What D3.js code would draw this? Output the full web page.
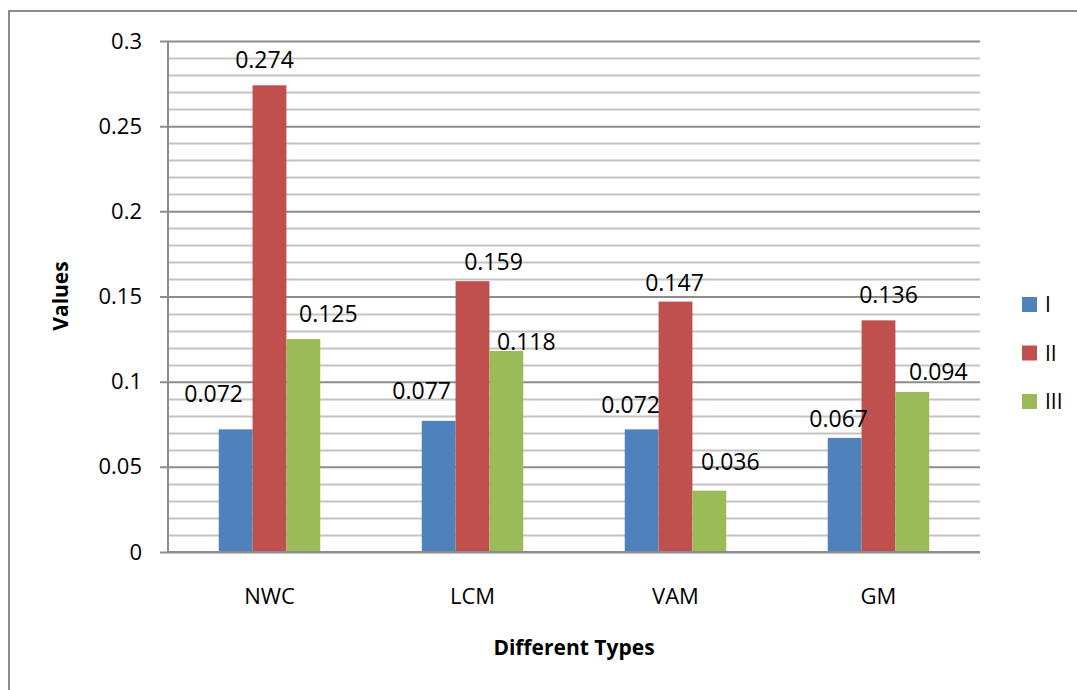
<!DOCTYPE html>
<html>
<head>
<meta charset="utf-8">
<script src="https://cdn.jsdelivr.net/npm/d3@7"></script>
<style>
  body { margin: 0; background: #fff; }
  text { font-family: "Open Sans", sans-serif; fill: #000; }
</style>
</head>
<body>
<div id="wrapper"></div>
<script>
// chart data
const categories = ["NWC", "LCM", "VAM", "GM"];
const seriesNames = ["I", "II", "III"];
const seriesI = [0.072, 0.077, 0.072, 0.067];
const seriesII = [0.274, 0.159, 0.147, 0.136];
const seriesIII = [0.125, 0.118, 0.036, 0.094];
const yTicks = [0, 0.05, 0.1, 0.15, 0.2, 0.25, 0.3];
const colors = ["#4F81BD", "#C0504D", "#9BBB59"];

function buildChart() {
    const allSeries = [seriesI, seriesII, seriesIII];

    const dimension = {
        width: 1077,
        height: 690,
        margin: { top: 41, left: 168, bottom: 138, right: 97 }
    };
    dimension.boundedWidth = dimension.width - dimension.margin.left - dimension.margin.right;
    dimension.boundedHeight = dimension.height - dimension.margin.top - dimension.margin.bottom;

    const svg = d3.select("#wrapper").append("svg")
        .attr("width", dimension.width)
        .attr("height", dimension.height);

    // outer frame (only left and top edges are visible)
    svg.append("rect")
        .attr("x", 9).attr("y", 11)
        .attr("width", 1200).attr("height", 800)
        .attr("fill", "none")
        .attr("stroke", "#8c8c8c")
        .attr("stroke-width", 2);

    const bounded = svg.append("g")
        .attr("transform", `translate(${dimension.margin.left},${dimension.margin.top})`);

    const yScaler = d3.scaleLinear()
        .domain([0, 0.3])
        .range([dimension.boundedHeight, 0]);

    const x0 = d3.scaleBand()
        .domain(categories)
        .range([0, dimension.boundedWidth])
        .padding(0);
    const bw = x0.bandwidth();
    const x1 = d3.scaleBand()
        .domain(seriesNames)
        .range([bw * 0.25, bw * 0.75])
        .padding(0);

    // minor gridlines every 0.01
    const minor = d3.range(1, 30).map(d => d / 100).filter(d => Math.round(d * 100) % 5 !== 0);
    bounded.append("g").selectAll("line")
        .data(minor)
        .join("line")
        .attr("x1", 0).attr("x2", dimension.boundedWidth)
        .attr("y1", d => Math.round(yScaler(d)) + 0.5)
        .attr("y2", d => Math.round(yScaler(d)) + 0.5)
        .attr("stroke", "#c4c4c4")
        .attr("stroke-width", 2);

    // major gridlines + y axis
    const yAxis = d3.axisLeft(yScaler)
        .tickValues(yTicks)
        .tickSize(-dimension.boundedWidth)
        .tickFormat(d => d3.format("")(+d.toFixed(2)));
    const yG = bounded.append("g").call(yAxis);
    yG.select(".domain").remove();
    yG.selectAll(".tick line")
        .attr("stroke", "#8c8c8c")
        .attr("stroke-width", 2)
        .attr("x1", -8);
    yG.selectAll(".tick text")
        .attr("x", -26)
        .attr("font-size", 22)
        .attr("font-family", "Open Sans, sans-serif");

    // y axis line
    bounded.append("line")
        .attr("x1", 0).attr("x2", 0)
        .attr("y1", 0).attr("y2", dimension.boundedHeight)
        .attr("stroke", "#8c8c8c").attr("stroke-width", 2);

    // bars
    const groups = bounded.append("g").selectAll("g")
        .data(categories)
        .join("g")
        .attr("transform", d => `translate(${x0(d)},0)`);

    groups.selectAll("rect")
        .data((c, ci) => seriesNames.map((s, si) => ({ s, si, v: allSeries[si][ci] })))
        .join("rect")
        .attr("x", d => x1(d.s))
        .attr("width", x1.bandwidth())
        .attr("y", d => yScaler(d.v))
        .attr("height", d => dimension.boundedHeight - yScaler(d.v))
        .attr("fill", d => colors[d.si]);

    // x axis line
    bounded.append("line")
        .attr("x1", 0).attr("x2", dimension.boundedWidth)
        .attr("y1", dimension.boundedHeight).attr("y2", dimension.boundedHeight)
        .attr("stroke", "#8c8c8c").attr("stroke-width", 2);

    // data labels (Excel placed these by hand, so nudge each one)
    const nudge = [
        [[-22, 27], [-5, 17], [25, 17]],
        [[-17, 22], [21, 11], [20, 1]],
        [[-11, 16], [-1, 11], [21, 21]],
        [[-6, 11], [10, 17], [26, 12]]
    ];
    groups.selectAll("text.lbl")
        .data((c, ci) => seriesNames.map((s, si) => ({ s, si, ci, v: allSeries[si][ci] })))
        .join("text")
        .attr("class", "lbl")
        .attr("x", d => x1(d.s) + x1.bandwidth() / 2 + nudge[d.ci][d.si][0])
        .attr("y", d => yScaler(d.v) - nudge[d.ci][d.si][1])
        .attr("text-anchor", "middle")
        .attr("font-size", 23)
        .text(d => d.v.toFixed(3));

    // category labels
    bounded.append("g").selectAll("text")
        .data(categories)
        .join("text")
        .attr("x", d => x0(d) + bw / 2)
        .attr("y", dimension.boundedHeight + 52)
        .attr("text-anchor", "middle")
        .attr("font-size", 22)
        .text(d => d);

    // axis titles
    svg.append("text")
        .attr("x", 574)
        .attr("y", 655)
        .attr("text-anchor", "middle")
        .attr("font-size", 21)
        .attr("font-weight", "bold")
        .text("Different Types");

    svg.append("text")
        .attr("transform", "translate(68,296) rotate(-90)")
        .attr("text-anchor", "middle")
        .attr("font-size", 21)
        .attr("font-weight", "bold")
        .text("Values");

    // legend
    const legend = svg.append("g").selectAll("g")
        .data(seriesNames)
        .join("g")
        .attr("transform", (d, i) => `translate(1022,${297 + i * 48.5})`);
    legend.append("rect")
        .attr("width", 15).attr("height", 15)
        .attr("fill", (d, i) => colors[i]);
    legend.append("text")
        .attr("x", 23).attr("y", 15)
        .attr("font-size", 21)
        .text(d => d);
}
buildChart();
</script>
</body>
</html>
